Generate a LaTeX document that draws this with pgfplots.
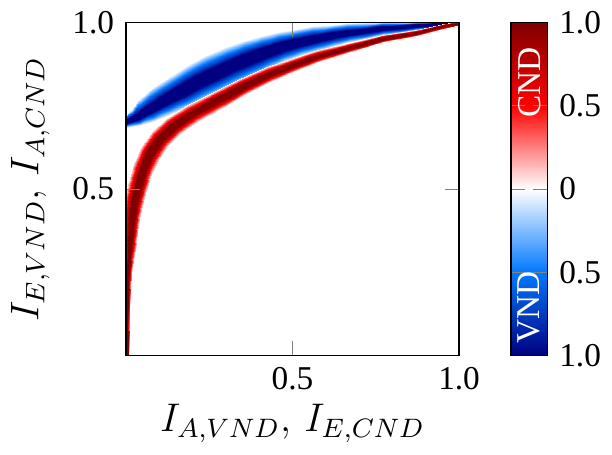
\documentclass[border=0pt]{standalone}
\usepackage{fontspec}
\setmainfont{Liberation Serif}
\usepackage{pgfplots}
\usepackage{pgfplotstable}
\pgfplotsset{compat=1.18}

% red band: 4 scanlines of 22 points (outer, core, core, outer), meta 0 / 1 / 1 / 0
\pgfplotstableread{
x y c
0.000 0.000 0
-0.001 0.150 0
-0.003 0.250 0
-0.007 0.320 0
-0.0085 0.405 0
-0.0045 0.469 0
0.0052 0.5218 0
0.0203 0.5745 0
0.0419 0.6225 0
0.0743 0.6708 0
0.1176 0.7107 0
0.182 0.752 0
0.256 0.7894 0
0.3383 0.8301 0
0.4208 0.8662 0
0.493 0.8908 0
0.5749 0.9162 0
0.6662 0.9384 0
0.7676 0.9637 0
0.8682 0.9768 0
0.949 0.9949 0
1.0 1.003 0
0.0035 0.000 1
0.0032 0.150 1
0.004 0.250 1
0.0056 0.320 1
0.0086 0.4015 1
0.0154 0.4627 1
0.0261 0.5135 1
0.0411 0.5644 1
0.0616 0.6103 1
0.0923 0.6562 1
0.1333 0.6948 1
0.1946 0.7352 1
0.2658 0.7723 1
0.3465 0.8139 1
0.4272 0.8514 1
0.4979 0.8776 1
0.5785 0.9049 1
0.6689 0.929 1
0.769 0.9573 1
0.8692 0.972 1
0.9495 0.9911 1
1.0 0.9997 1
0.0065 0.000 1
0.0068 0.150 1
0.010 0.250 1
0.0164 0.320 1
0.0234 0.3985 1
0.0326 0.4573 1
0.0439 0.5065 1
0.0589 0.5556 1
0.0784 0.5997 1
0.1077 0.6438 1
0.1467 0.6812 1
0.2054 0.7208 1
0.2742 0.7577 1
0.3535 0.8001 1
0.4328 0.8386 1
0.5021 0.8664 1
0.5815 0.8951 1
0.6711 0.921 1
0.771 0.9487 1
0.8708 0.964 1
0.9505 0.9849 1
1.0 0.9943 1
0.010 0.000 0
0.011 0.150 0
0.017 0.250 0
0.029 0.320 0
0.0405 0.395 0
0.0525 0.451 0
0.0648 0.4982 0
0.0797 0.5455 0
0.0981 0.5875 0
0.1257 0.6292 0
0.1624 0.6653 0
0.218 0.704 0
0.284 0.7406 0
0.3617 0.7839 0
0.4392 0.8238 0
0.507 0.8532 0
0.5851 0.8838 0
0.6738 0.9116 0
0.7724 0.9423 0
0.8718 0.9592 0
0.951 0.9811 0
1.0 0.991 0
}\cndband

% blue band: 4 scanlines of 19 points, meta 0 / -1 / -1 / 0
\pgfplotstableread{
x y c
-0.005 0.716 0
0.0146 0.7382 0
0.040 0.769 0
0.081 0.8055 0
0.1375 0.8429 0
0.1889 0.8746 0
0.2408 0.9026 0
0.298 0.9254 0
0.3477 0.9437 0
0.404 0.9595 0
0.4544 0.9712 0
0.5097 0.9808 0
0.5599 0.9883 0
0.6136 0.9934 0
0.6642 0.9977 0
0.7676 1.0018 0
0.869 1.002 0
0.970 1.004 0
1.010 1.005 0
-0.005 0.7048 -1
0.0254 0.722 -1
0.0568 0.7466 -1
0.1013 0.7772 -1
0.1567 0.8094 -1
0.2072 0.8385 -1
0.2584 0.8644 -1
0.3134 0.888 -1
0.3612 0.9075 -1
0.4152 0.9263 -1
0.4632 0.941 -1
0.5169 0.9529 -1
0.5656 0.9629 -1
0.6181 0.9714 -1
0.6676 0.9783 -1
0.7693 0.9879 -1
0.8696 0.9948 -1
0.970 1.0004 -1
1.010 1.0014 -1
-0.005 0.6952 -1
0.0346 0.708 -1
0.0712 0.7274 -1
0.1187 0.7528 -1
0.1733 0.7806 -1
0.2228 0.8075 -1
0.2736 0.8316 -1
0.3266 0.856 -1
0.3728 0.8765 -1
0.4248 0.8977 -1
0.4708 0.915 -1
0.5231 0.9291 -1
0.5704 0.9411 -1
0.6219 0.9526 -1
0.6704 0.9617 -1
0.7707 0.9761 -1
0.8704 0.9852 -1
0.970 0.9956 -1
1.010 0.9966 -1
-0.005 0.684 0
0.0454 0.6918 0
0.088 0.705 0
0.139 0.7245 0
0.1925 0.7471 0
0.2411 0.7714 0
0.2912 0.7934 0
0.342 0.8186 0
0.3863 0.8403 0
0.436 0.8645 0
0.4796 0.8848 0
0.5303 0.9012 0
0.5761 0.9157 0
0.6264 0.9306 0
0.6738 0.9423 0
0.7724 0.9622 0
0.871 0.978 0
0.970 0.992 0
1.010 0.993 0
}\vndband

\begin{document}
\begin{tikzpicture}
  \begin{axis}[
      width=100pt, height=100pt, scale only axis,
      xmin=0, xmax=1, ymin=0, ymax=1,
      xtick={0.5,1}, xticklabels={0.5,1.0},
      ytick={0.5,1}, yticklabels={0.5,1.0},
      major tick style={gray},
      label style={font=\large},
      xlabel={$I_{A,VND},\, I_{E,CND}$},
      xlabel style={yshift=2.5pt},
      ylabel={$I_{E,VND},\, I_{A,CND}$},
      axis on top,
      colormap={cndvnd}{rgb255(0cm)=(0,0,128); rgb255(1cm)=(0,120,255); rgb255(2cm)=(255,255,255); rgb255(3cm)=(255,0,0); rgb255(4cm)=(128,0,0)},
      point meta min=-1, point meta max=1,
      colorbar,
      colorbar style={
          width=11pt,
          at={(parent axis.north east)}, anchor=north west, xshift=7pt,
          ytick={-1,-0.5,0,0.5,1},
          yticklabels={1.0,0.5,0,0.5,1.0},
          major tick style={gray},
          after end axis/.code={
              \node[rotate=90, white] at (rel axis cs:0.5,0.82) {CND};
              \node[rotate=90, white] at (rel axis cs:0.5,0.145) {VND};
          },
      },
    ]
    \addplot[surf, shader=interp, point meta=explicit, mesh/cols=19] table[x=x, y=y, meta=c] {\vndband};
    \addplot[surf, shader=interp, point meta=explicit, mesh/cols=22] table[x=x, y=y, meta=c] {\cndband};
  \end{axis}
\end{tikzpicture}
\end{document}
